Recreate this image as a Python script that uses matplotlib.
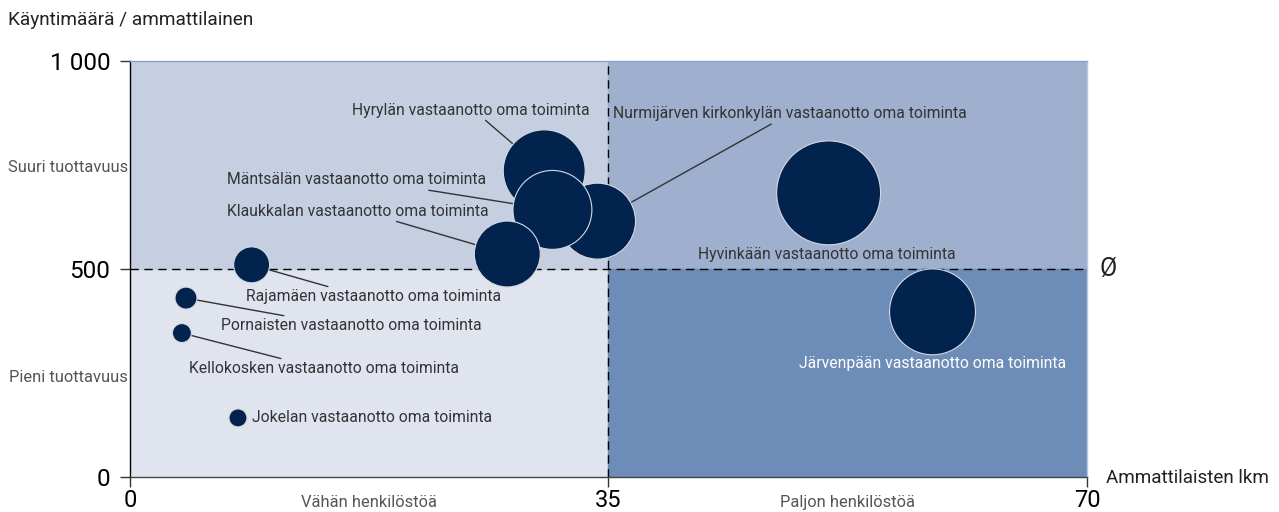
import matplotlib.pyplot as plt
from matplotlib.patches import Rectangle

plt.rcParams['font.family'] = ['Roboto', 'DejaVu Sans']

# yksiköt: ammattilaisia, käyntejä / ammattilainen, kuplan koko
nimet = ["Hyvinkään vastaanotto oma toiminta",
         "Järvenpään vastaanotto oma toiminta",
         "Nurmijärven kirkonkylän vastaanotto oma toiminta",
         "Hyrylän vastaanotto oma toiminta",
         "Mäntsälän vastaanotto oma toiminta",
         "Klaukkalan vastaanotto oma toiminta",
         "Rajamäen vastaanotto oma toiminta",
         "Pornaisten vastaanotto oma toiminta",
         "Kellokosken vastaanotto oma toiminta",
         "Jokelan vastaanotto oma toiminta"]
ammattilaiset = [51.1, 58.7, 34.2, 30.3, 30.9, 27.6, 8.9, 4.1, 3.8, 7.9]
kaynnit = [683, 397, 615, 736, 642, 536, 510, 430, 346, 142]
koko = [2704, 1849, 1444, 1681, 1560, 1089, 324, 121, 90, 81]

xticks = [0, 35, 70]
yticks = [0, 500, 1000]
yticklabels = ["0", "500", "1 000"]
keski_x = 35
keski_y = 500

# label placement: (x, y, ha, relpos) or None for no leader line
paikat = [
    (51.0, 534, 'center', None),
    (58.7, 272, 'center', None),
    (48.3, 873, 'center', (0.46, 0)),
    (24.9, 882, 'center', (0.55, 0)),
    (16.6, 714, 'center', (0.71, 0)),
    (16.7, 639, 'center', (0.61, 0)),
    (17.8, 433, 'center', (0.36, 1)),
    (16.2, 363, 'center', (0.30, 1)),
    (14.2, 260, 'center', (0.38, 1)),
    (8.9, 142, 'left', None),
]

fig = plt.figure(figsize=(12.79, 5.12), dpi=100)
ax = fig.add_axes([0.1016, 0.0684, 0.7483, 0.8125])
ax.set_xlim(0, 70)
ax.set_ylim(0, 1000)

ax.add_patch(Rectangle((0, 0), keski_x, keski_y, color='#dfe4ee', zorder=0))
ax.add_patch(Rectangle((0, keski_y), keski_x, 1000 - keski_y, color='#c5cfe1', zorder=0))
ax.add_patch(Rectangle((keski_x, keski_y), 70 - keski_x, 1000 - keski_y, color='#9eb0ce', zorder=0))
ax.add_patch(Rectangle((keski_x, 0), 70 - keski_x, keski_y, color='#6e8cb8', zorder=0))

ax.axvline(keski_x, color='black', ls=(0, (6, 4)), lw=1, zorder=1)
ax.axhline(keski_y, color='black', ls=(0, (6, 4)), lw=1, zorder=1)

ax.scatter(ammattilaiset, kaynnit, s=[k * 2.07 for k in koko], color='#03234f',
           edgecolors='#d5d9e0', linewidths=0.8, zorder=3)

for i in range(len(nimet)):
    tx, ty, ha, rp = paikat[i]
    vari = 'white' if i == 1 else '#333333'
    if rp is None:
        ax.text(tx, ty, nimet[i], ha=ha, va='center', fontsize=11.3, color=vari, zorder=4)
    else:
        r = (koko[i] ** 0.5) * 0.72
        ax.annotate(nimet[i], xy=(ammattilaiset[i], kaynnit[i]), xytext=(tx, ty),
                    ha=ha, va='center', fontsize=11.3, color=vari, zorder=2,
                    arrowprops=dict(arrowstyle='-', color='#333333', lw=1,
                                    shrinkA=0, shrinkB=r, relpos=rp))

ax.set_xticks(xticks)
ax.set_xticklabels([str(t) for t in xticks], fontsize=17)
ax.set_yticks(yticks)
ax.set_yticklabels(yticklabels, fontsize=17.5)
ax.tick_params(axis='both', direction='out', length=7, width=1, color='#333333')
ax.tick_params(axis='y', pad=7)
ax.tick_params(axis='x', pad=2)

ax.spines['left'].set_color('black')
ax.spines['bottom'].set_color('#444444')
ax.spines['top'].set_color('#8aa0c8')
ax.spines['right'].set_color('#b8c6de')
for s in ax.spines.values():
    s.set_linewidth(1)

ax.text(17.5, -0.062, "Vähän henkilöstöä", transform=ax.get_xaxis_transform(),
        ha='center', va='center', fontsize=11.9, color='#555555')
ax.text(52.5, -0.062, "Paljon henkilöstöä", transform=ax.get_xaxis_transform(),
        ha='center', va='center', fontsize=11.9, color='#555555')
fig.text(128 / 1279, 1 - 168 / 512, "Suuri tuottavuus", ha='right', va='center',
         fontsize=11.9, color='#555555')
fig.text(128 / 1279, 1 - 378 / 512, "Pieni tuottavuus", ha='right', va='center',
         fontsize=11.9, color='#555555')

fig.text(8 / 1279, 1 - 20 / 512, "Käyntimäärä / ammattilainen", ha='left', va='center',
         fontsize=13.7, color='#222222')
fig.text(1106 / 1279, 1 - 478 / 512, "Ammattilaisten lkm", ha='left', va='center',
         fontsize=13.6, color='#222222')
fig.text(1108 / 1279, 1 - 269 / 512, "Ø", ha='center', va='center',
         fontsize=18, color='#222222')

fig.savefig("out.png", dpi=100)
